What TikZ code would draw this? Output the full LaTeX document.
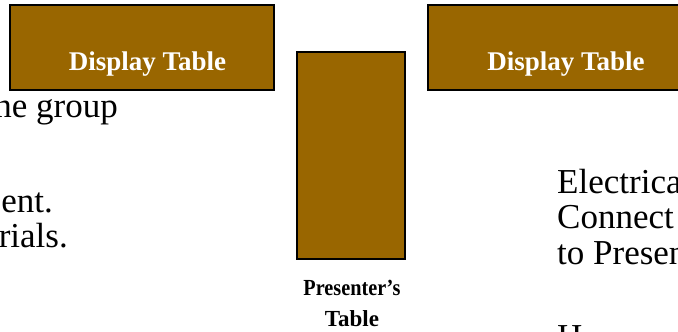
\documentclass[tikz,border=0pt]{standalone}
\usepackage{fontspec}
\setmainfont{Liberation Serif}
\definecolor{tablebrown}{RGB}{153,102,0}
\begin{document}
\begin{tikzpicture}[x=1pt,y=-1pt,
  tablebox/.style={draw=black,line width=1.5pt,fill=tablebrown},
  tablelabel/.style={text=white,font=\fontsize{27}{30}\selectfont\bfseries,inner sep=0pt,anchor=base},
  bodytext/.style={font=\fontsize{35}{38}\selectfont,inner sep=0pt},
  presenterlabel/.style={font=\fontsize{23}{31}\selectfont\bfseries,inner sep=0pt,align=center,anchor=base}]
\useasboundingbox (0,0) rectangle (678,332);
\draw[tablebox] (10,5) rectangle (274,90);
\draw[tablebox] (297,52) rectangle (405,259);
\draw[tablebox] (428,5) rectangle (694,90);
\node[tablelabel] (dtl) at (147.5,70.5) {Display Table};
\node[tablelabel] (dtr) at (566,70.5) {Display Table};
\node[presenterlabel] (pt) at (352,326) {\scalebox{0.88}[1]{Presenter’s}\\Table};
\node[bodytext,anchor=base east] (l1) at (118,117) {ne group};
\node[bodytext,anchor=base east] (l2) at (53,212) {ent.};
\node[bodytext,anchor=base east] (l3) at (68,247) {rials.};
\node[bodytext,anchor=base west] (r1) at (557,193) {Electrica};
\node[bodytext,anchor=base west] (r2) at (557,228) {Connect};
\node[bodytext,anchor=base west] (r3) at (557,264) {to Presen};
\node[bodytext,anchor=base west] (r4) at (557,348) {H};
\end{tikzpicture}
\end{document}
